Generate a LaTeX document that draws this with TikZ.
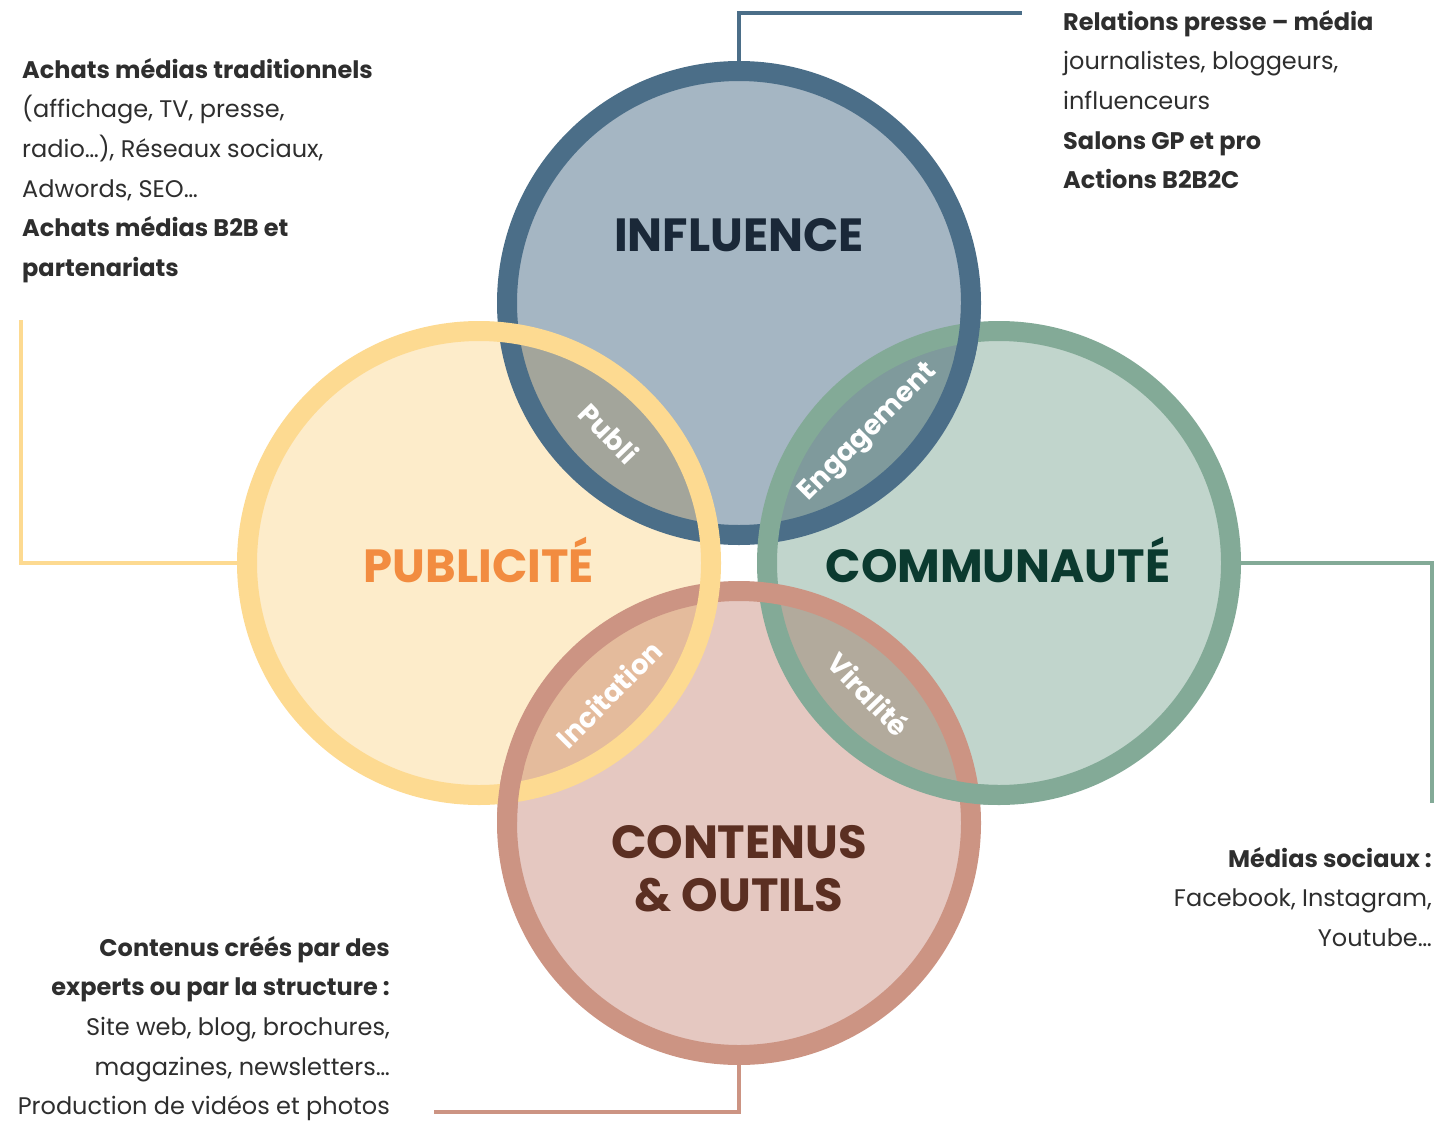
\documentclass[tikz,border=0pt]{standalone}
\usepackage{fontspec}
\setmainfont{Poppins}
\definecolor{cBr}{HTML}{4B6E88}
\definecolor{cBf}{HTML}{A5B6C3}
\definecolor{cYr}{HTML}{FDDA91}
\definecolor{cYf}{HTML}{FDECCA}
\definecolor{cGr}{HTML}{83AA97}
\definecolor{cGf}{HTML}{C1D5CC}
\definecolor{cPr}{HTML}{CC9483}
\definecolor{cPf}{HTML}{E5C8C1}
\definecolor{lPubli}{HTML}{A3A59B}
\definecolor{lEng}{HTML}{7F9A9C}
\definecolor{lInc}{HTML}{E4BB9C}
\definecolor{lVir}{HTML}{B2AA9C}
\definecolor{tInf}{HTML}{1A2838}
\definecolor{tPub}{HTML}{F28C40}
\definecolor{tCom}{HTML}{0B3A2F}
\definecolor{tCon}{HTML}{5B2F22}
\definecolor{tTxt}{HTML}{2E2E2E}
\begin{document}
\begin{tikzpicture}[x=1pt,y=-1pt,
  anchorcircle/.style={circle,minimum size=484pt,inner sep=0pt,outer sep=0pt},
  ring/.style={line width=20pt},
  link/.style={line width=4pt,line join=miter},
  biglabel/.style={font=\fontsize{46.5}{53}\selectfont\bfseries,inner sep=0pt,align=center},
  lenslabel/.style={font=\fontsize{27.5}{30}\selectfont\bfseries,text=white,inner sep=0pt},
  sidetext/.style={font=\fontsize{24}{39.6}\selectfont,text=tTxt,inner sep=0pt}
]
\useasboundingbox (0,0) rectangle (1440,1121);

% anchor nodes for the four circles
\node[anchorcircle] (inf) at (739,303) {};
\node[anchorcircle] (pub) at (479,563) {};
\node[anchorcircle] (com) at (999,563) {};
\node[anchorcircle] (con) at (739,823) {};

% light fills
\fill[cBf] (inf.center) circle[radius=232pt];
\fill[cYf] (pub.center) circle[radius=232pt];
\fill[cGf] (com.center) circle[radius=232pt];
\fill[cPf] (con.center) circle[radius=232pt];

% lens fills
\begin{scope}\clip (inf.center) circle[radius=232pt]; \fill[lPubli] (pub.center) circle[radius=232pt];\end{scope}
\begin{scope}\clip (inf.center) circle[radius=232pt]; \fill[lEng] (com.center) circle[radius=232pt];\end{scope}
\begin{scope}\clip (con.center) circle[radius=232pt]; \fill[lInc] (pub.center) circle[radius=232pt];\end{scope}
\begin{scope}\clip (con.center) circle[radius=232pt]; \fill[lVir] (com.center) circle[radius=232pt];\end{scope}

% rings (base order)
\draw[ring,cBr] (inf.center) circle[radius=232pt];
\draw[ring,cGr] (com.center) circle[radius=232pt];
\draw[ring,cPr] (con.center) circle[radius=232pt];
\draw[ring,cYr] (pub.center) circle[radius=232pt];

% interlacing fixes
\begin{scope}\clip (969,333) circle[radius=30pt]; \draw[ring,cBr] (inf.center) circle[radius=232pt];\end{scope}
\begin{scope}\clip (969,793) circle[radius=30pt]; \draw[ring,cGr] (com.center) circle[radius=232pt];\end{scope}
\begin{scope}\clip (509,793) circle[radius=30pt]; \draw[ring,cPr] (con.center) circle[radius=232pt];\end{scope}

% main labels
\node[biglabel,text=tInf] (linf) at (739,235) {INFLUENCE};
\node[biglabel,text=tPub] (lpub) at (479,560) {PUBLICITÉ};
\node[biglabel,text=tCom] (lcom) at (998,560) {COMMUNAUTÉ};
\node[biglabel,text=tCon] (lcon) at (739,869) {CONTENUS\\\&~OUTILS};

% lens labels
\node[lenslabel,rotate=-46] (lpubli) at (609,433) {Publi};
\node[lenslabel,rotate=45] (leng) at (869,433) {Engagement};
\node[lenslabel,rotate=45] (linc) at (609,694) {Incitation};
\node[lenslabel,rotate=-46] (lvir) at (869,694) {Viralité};

% connectors
\coordinate (e1) at (1022,13);
\coordinate (e2) at (21,320);
\coordinate (e3) at (1432,803);
\coordinate (e4) at (434,1112);
\draw[link,cBr] (inf.north) |- (e1);
\draw[link,cYr] (pub.west) -| (e2);
\draw[link,cGr] (com.east) -| (e3);
\draw[link,cPr] (con.south) |- (e4);

% side texts
\node[sidetext,anchor=north west,align=left] (tpub) at (22,58)
 {\textbf{Achats médias traditionnels}\\(affichage, TV, presse,\\radio…), Réseaux sociaux,\\Adwords, SEO…\\\textbf{Achats médias B2B et}\\\textbf{partenariats}};
\node[sidetext,anchor=north west,align=left] (tinf) at (1063,10)
 {\textbf{Relations presse – média}\\journalistes, bloggeurs,\\influenceurs\\\textbf{Salons GP et pro}\\\textbf{Actions B2B2C}};
\node[sidetext,anchor=north east,align=right] (tcom) at (1432,847)
 {\textbf{Médias sociaux :}\\Facebook, Instagram,\\Youtube…};
\node[sidetext,anchor=north east,align=right] (tcon) at (390,936)
 {\textbf{Contenus créés par des}\\\textbf{experts ou par la structure :}\\Site web, blog, brochures,\\magazines, newsletters…\\Production de vidéos et photos};
\end{tikzpicture}
\end{document}
